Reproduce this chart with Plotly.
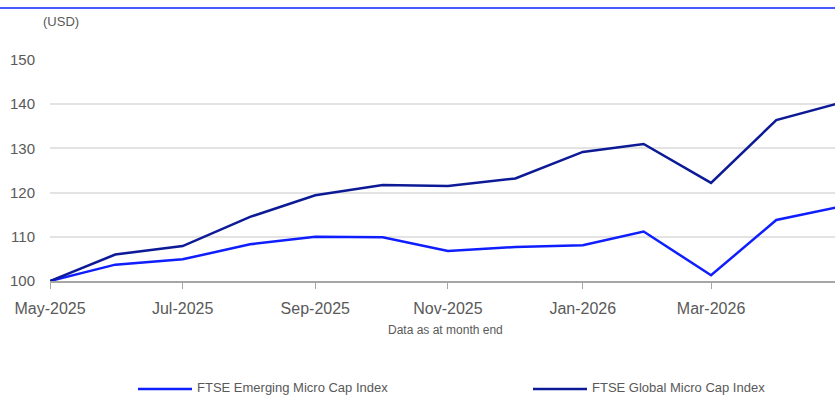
"""FTSE Emerging vs Global Micro Cap index growth (rebased to 100)."""
import plotly.graph_objects as go

# month-end observation dates
dates = [
    "2025-05-31", "2025-06-30", "2025-07-31", "2025-08-31", "2025-09-30",
    "2025-10-31", "2025-11-30", "2025-12-31", "2026-01-31", "2026-02-28",
    "2026-03-31", "2026-04-30", "2026-05-31",
]
emerging = [100.0, 103.7, 104.9, 108.3, 110.0, 109.9, 106.8, 107.7, 108.1, 111.2, 101.3, 113.8, 117.0]
global_mc = [100.0, 106.0, 107.9, 114.5, 119.4, 121.7, 121.5, 123.2, 129.2, 131.0, 122.2, 136.4, 140.5]

series_names = ["FTSE Emerging Micro Cap Index", "FTSE Global Micro Cap Index"]
series_colors = ["#0f1eff", "#0d1a96"]

tick_dates = dates[::2]
tick_labels = ["May-2025", "Jul-2025", "Sep-2025", "Nov-2025", "Jan-2026", "Mar-2026", "May-2026"]

FONT = "Liberation Sans, Arial, sans-serif"
GREY = "#595959"

fig = go.Figure()
for vals, name, col in zip([emerging, global_mc], series_names, series_colors):
    fig.add_trace(go.Scatter(x=dates, y=vals, name=name, mode="lines",
                             line=dict(color=col, width=2.5)))

# plot area is 785 x 221 px starting at (50, 60); helpers to place legend bits in paper units
def px_x(px):
    return (px - 50) / 785

def px_y(py):
    return (281 - py) / 221

shapes = [dict(type="line", xref="paper", yref="paper", x0=px_x(0), x1=1,
               y0=px_y(8), y1=px_y(8), line=dict(color="#0a22ff", width=1.5))]
annotations = [
    dict(text="(USD)", xref="paper", yref="paper", x=px_x(41), y=px_y(22),
         xanchor="left", yanchor="middle", showarrow=False, font=dict(size=13, color=GREY)),
    dict(text="Data as at month end", xref="paper", yref="paper", x=px_x(445), y=px_y(330),
         xanchor="center", yanchor="middle", showarrow=False, font=dict(size=12, color=GREY)),
]
# manual legend at the bottom edge
for start, name, col in zip([138, 533], series_names, series_colors):
    shapes.append(dict(type="line", xref="paper", yref="paper", x0=px_x(start), x1=px_x(start + 54),
                       y0=px_y(389), y1=px_y(389), line=dict(color=col, width=2.5)))
    annotations.append(dict(text=name, xref="paper", yref="paper", x=px_x(start + 57), y=px_y(387),
                            xanchor="left", yanchor="middle", showarrow=False,
                            font=dict(size=13, color=GREY)))

fig.update_layout(
    width=835, height=396,
    margin=dict(l=50, r=0, t=60, b=115),
    paper_bgcolor="white", plot_bgcolor="white",
    font=dict(family=FONT, color=GREY, size=14),
    xaxis=dict(
        type="date", range=["2025-05-31", "2026-05-27"],
        tickvals=tick_dates, ticktext=tick_labels,
        showgrid=False, showline=True, linecolor="#a6a6a6", linewidth=2,
        ticks="outside", ticklen=6, tickcolor="#a6a6a6", tickwidth=1,
        ticklabelstandoff=6, tickfont=dict(size=16, color=GREY),
    ),
    yaxis=dict(
        range=[100, 150], dtick=10, showgrid=True, gridcolor="#e3e3e3", gridwidth=1.5,
        zeroline=False, showline=False, ticklabelstandoff=14,
        tickfont=dict(size=15, color=GREY),
    ),
    showlegend=False,
    shapes=shapes,
    annotations=annotations,
)

fig.write_html("out.html", config={"displayModeBar": False},
               post_script="document.body.style.margin='0';document.body.style.overflow='hidden';")
